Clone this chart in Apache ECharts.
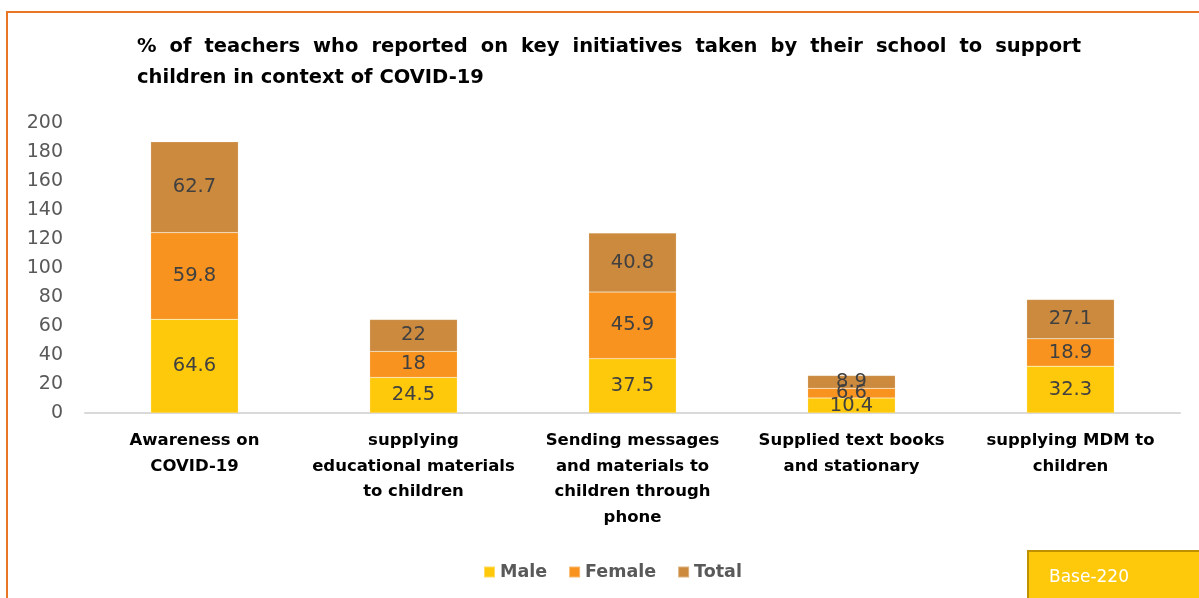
<!DOCTYPE html>
<html>
<head>
<meta charset="utf-8">
<script src="https://cdn.jsdelivr.net/npm/echarts@6/dist/echarts.min.js"></script>
<style>
  html, body { margin: 0; padding: 0; background: #ffffff; }
  #chart { width: 1199px; height: 598px; }
</style>
</head>
<body>
<div id="chart"></div>
<script>
// Initiatives reported by teachers (stacked by group)
const categories = [
  'Awareness on\nCOVID-19',
  'supplying\neducational materials\nto children',
  'Sending messages\nand materials to\nchildren through\nphone',
  'Supplied text books\nand stationary',
  'supplying MDM to\nchildren'
];
const maleValues = [64.6, 24.5, 37.5, 10.4, 32.3];
const femaleValues = [59.8, 18, 45.9, 6.6, 18.9];
const totalValues = [62.7, 22, 40.8, 8.9, 27.1];
const seriesNames = ['Male', 'Female', 'Total'];
const titleLines = [
  '% of teachers who reported on key initiatives taken by their school to support',
  'children in context of COVID-19'
];
const baseNote = 'Base-220';

const colors = ['#FFC90B', '#F7931E', '#CB8A3E'];
const titleFont = 'bold 19.5px "DejaVu Sans"';

// Lay out the first title line as justified text between two edges
function justifiedWords(line, x0, x1, y) {
  const ctx = document.createElement('canvas').getContext('2d');
  ctx.font = titleFont;
  const words = line.split(' ');
  const widths = words.map(w => ctx.measureText(w).width);
  const sum = widths.reduce((a, b) => a + b, 0);
  const gap = (x1 - x0 - sum) / (words.length - 1);
  const out = [];
  let x = x0;
  words.forEach((w, i) => {
    out.push({
      type: 'text', x: x, y: y,
      style: { text: w, font: titleFont, fill: '#000000', textVerticalAlign: 'middle' }
    });
    x += widths[i] + gap;
  });
  return out;
}

const chart = echarts.init(document.getElementById('chart'));

const labelStyle = {
  show: true,
  position: 'inside',
  color: '#404040',
  fontFamily: 'DejaVu Sans',
  fontSize: 19.5
};

function makeSeries(name, data, color) {
  return {
    name: name,
    type: 'bar',
    stack: 'all',
    data: data,
    barWidth: '40%',
    itemStyle: { color: color, borderColor: 'rgba(255,255,255,0.35)', borderWidth: 0.5 },
    label: labelStyle,
    emphasis: { disabled: true }
  };
}

const graphics = [
  {
    type: 'rect', shape: { x: 7, y: 12, width: 1250, height: 650 },
    style: { fill: 'none', stroke: '#E97625', lineWidth: 2 }, z: 0
  },
  ...justifiedWords(titleLines[0], 137, 1081, 47),
  {
    type: 'text', x: 137, y: 78,
    style: { text: titleLines[1], font: titleFont, fill: '#000000', textVerticalAlign: 'middle' }
  },
  {
    type: 'rect', shape: { x: 1028, y: 551, width: 220, height: 80 },
    style: { fill: '#FFC90B', stroke: '#BF9000', lineWidth: 2 }
  },
  {
    type: 'text', x: 1049, y: 578,
    style: { text: baseNote, font: '17px "DejaVu Sans"', fill: '#ffffff', textVerticalAlign: 'middle' }
  }
];

chart.setOption({
  animation: false,
  backgroundColor: '#ffffff',
  color: colors,
  grid: { left: 85, right: 19, top: 123, bottom: 185, containLabel: false },
  legend: {
    data: seriesNames,
    left: 478,
    top: 558,
    itemWidth: 11,
    itemHeight: 11,
    itemGap: 21,
    icon: 'rect',
    textStyle: { fontFamily: 'DejaVu Sans', fontWeight: 'bold', fontSize: 17.5, color: '#595959' }
  },
  xAxis: {
    type: 'category',
    data: categories,
    axisLine: { lineStyle: { color: '#D9D9D9', width: 2 } },
    axisTick: { show: false },
    axisLabel: {
      interval: 0,
      margin: 15,
      color: '#000000',
      fontFamily: 'DejaVu Sans',
      fontWeight: 'bold',
      fontSize: 16.5,
      lineHeight: 25.5
    }
  },
  yAxis: {
    type: 'value',
    min: 0,
    max: 200,
    interval: 20,
    splitLine: { show: false },
    axisLine: { show: false },
    axisTick: { show: false },
    axisLabel: {
      margin: 22,
      color: '#595959',
      fontFamily: 'DejaVu Sans',
      fontSize: 19
    }
  },
  series: [
    makeSeries(seriesNames[0], maleValues, colors[0]),
    makeSeries(seriesNames[1], femaleValues, colors[1]),
    makeSeries(seriesNames[2], totalValues, colors[2])
  ],
  graphic: graphics
});
</script>
</body>
</html>
